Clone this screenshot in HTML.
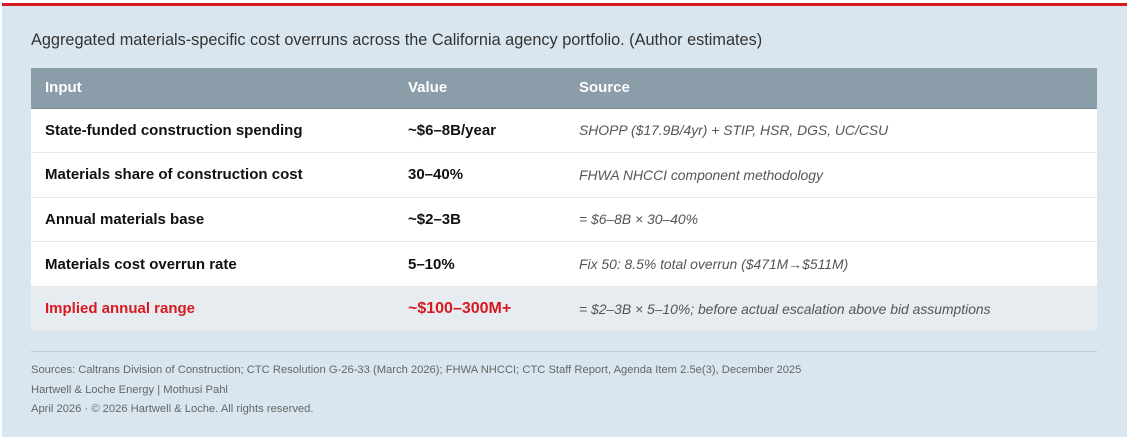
<!DOCTYPE html>
<html><head><meta charset="utf-8"><style>
*{margin:0;padding:0;box-sizing:border-box}
body{width:1132px;height:443px;background:#fff;font-family:"Liberation Sans",sans-serif;position:relative;overflow:hidden}
#panel{position:absolute;left:2px;top:3px;width:1125px;height:434px;background:#d9e6ef;border-top:3px solid #d71920}
#title{position:absolute;left:29px;top:25px;font-size:16.3px;color:#333}
table{position:absolute;left:29px;top:62px;width:1066px;border-collapse:collapse}
th{background:#8a9da9;color:#fff;font-weight:bold;font-size:15px;text-align:left;height:40px;padding:0 14px;border-bottom:1px solid #7b8d99}
td{background:#fff;height:44.6px;padding:0 14px;font-size:15px;border-bottom:1px solid #e3e9ee;color:#111}
td.i{font-weight:bold}td.v{font-weight:bold}td.s{font-style:italic;color:#555;font-size:13.9px}
tr.hl td{background:#e6ecf0;border-bottom:none}
tr.hl td.i,tr.hl td.v{color:#d71920}
#rule{position:absolute;left:29px;top:345px;width:1066px;height:1px;background:#bccbd6}
.f{position:absolute;left:29px;font-size:11.2px;color:#666}
</style></head><body>
<div id="panel">
<div id="title">Aggregated materials-specific cost overruns across the California agency portfolio. (Author estimates)</div>
<table>
<colgroup><col style="width:363px"><col style="width:171px"><col></colgroup>
<tr><th>Input</th><th>Value</th><th>Source</th></tr>
<tr><td class="i">State-funded construction spending</td><td class="v">~$6–8B/year</td><td class="s">SHOPP ($17.9B/4yr) + STIP, HSR, DGS, UC/CSU</td></tr>
<tr><td class="i">Materials share of construction cost</td><td class="v">30–40%</td><td class="s">FHWA NHCCI component methodology</td></tr>
<tr><td class="i">Annual materials base</td><td class="v">~$2–3B</td><td class="s">= $6–8B × 30–40%</td></tr>
<tr><td class="i">Materials cost overrun rate</td><td class="v">5–10%</td><td class="s">Fix 50: 8.5% total overrun ($471M→$511M)</td></tr>
<tr class="hl"><td class="i">Implied annual range</td><td class="v" style="font-size:16px">~$100–300M+</td><td class="s">= $2–3B × 5–10%; before actual escalation above bid assumptions</td></tr>
</table>
<div id="rule"></div>
<div class="f" style="top:358px">Sources: Caltrans Division of Construction; CTC Resolution G-26-33 (March 2026); FHWA NHCCI; CTC Staff Report, Agenda Item 2.5e(3), December 2025</div>
<div class="f" style="top:378px">Hartwell &amp; Loche Energy | Mothusi Pahl</div>
<div class="f" style="top:397px">April 2026 · © 2026 Hartwell &amp; Loche. All rights reserved.</div>
</div>
</body></html>
